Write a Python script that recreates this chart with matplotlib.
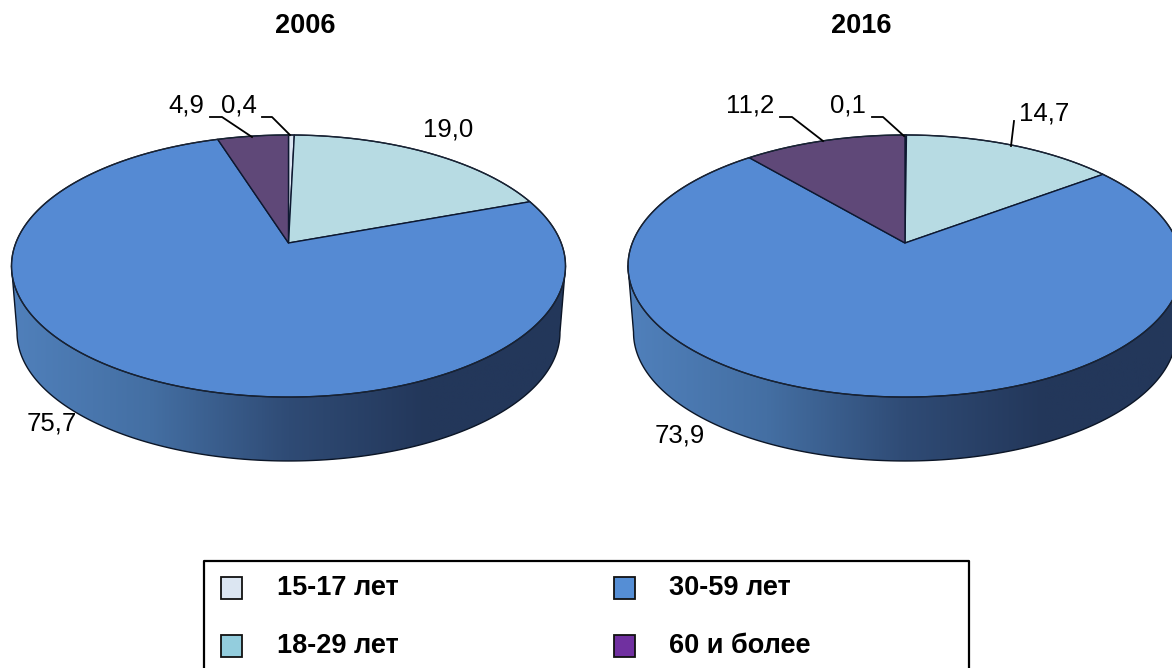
import numpy as np
import matplotlib
matplotlib.use("Agg")
import matplotlib.pyplot as plt
from matplotlib.colors import LinearSegmentedColormap
from matplotlib.patches import Polygon, Rectangle

plt.rcParams['font.family'] = ['Liberation Sans', 'DejaVu Sans']

# ---- data ----
years = ["2006", "2016"]
categories = ["15-17 лет", "18-29 лет", "30-59 лет", "60 и более"]
values_2006 = [0.4, 19.0, 75.7, 4.9]
values_2016 = [0.1, 14.7, 73.9, 11.2]
labels_2006 = ["0,4", "19,0", "75,7", "4,9"]
labels_2016 = ["0,1", "14,7", "73,9", "11,2"]
top_colors = ["#dce6f2", "#b7dbe3", "#558ad3", "#5f4878"]
legend_colors = ["#dce6f2", "#93cddd", "#558ed5", "#7030a0"]

# ---- layout in pixels ----
W, H = 1172, 668
CX = [288.5, 905]
CY = 243
A, B, K = 272.7, 127.0, 0.1756
DEPTH_SCALE, DEPTH_SHIFT = 0.98, 67

fig = plt.figure(figsize=(W / 100, H / 100), dpi=100)
ax = fig.add_axes([0, 0, 1, 1])
side_cmap = LinearSegmentedColormap.from_list(
    "side", ["#5080bb", "#446fa3", "#2f4b75", "#23375a", "#23375a"])


def disk(cx, cy, frac, scale=1.0):
    """Perspective view of the unit disk; frac runs clockwise from the top."""
    t = 2 * np.pi * np.asarray(frac, dtype=float)
    u, v = np.sin(t), np.cos(t)
    w = 1 + K * v
    return cx + scale * A * u / w, cy - scale * B * v / w


def draw_pie(cx, values):
    # side wall
    f = np.linspace(0, 1, 721)
    tx, ty = disk(cx, CY, f)
    bx, by = disk(cx, CY + DEPTH_SHIFT, f, DEPTH_SCALE)
    il, ir = np.argmin(bx), np.argmax(bx)
    tl, tr = np.argmin(tx), np.argmax(tx)
    seg = np.arange(ir, il + 1)
    px = np.r_[tx[tr], bx[seg], tx[tl]]
    py = np.r_[ty[tr], by[seg], ty[tl]]
    wall = Polygon(np.c_[px, py], closed=True, fc="none", ec="#0b1526", lw=1.0, zorder=3)
    ax.add_patch(wall)
    grad = np.linspace(0, 1, 256)[None, :]
    im = ax.imshow(grad, cmap=side_cmap, aspect="auto", zorder=2,
                   extent=[px.min(), px.max(), py.max(), py.min()])
    im.set_clip_path(wall)

    # top surface
    total = sum(values)
    start = 0.0
    for val, col in zip(values, top_colors):
        fr = np.linspace(start, start + val / total, max(int(val * 8), 4))
        x, y = disk(cx, CY, fr)
        ax.add_patch(Polygon(np.c_[np.r_[cx, x], np.r_[CY, y]], closed=True,
                             fc=col, ec="#0d1830", lw=1.0, zorder=4, joinstyle="round"))
        start += val / total
    ax.plot(tx, ty, color="#1a2433", lw=0.9, zorder=5)


draw_pie(CX[0], values_2006)
draw_pie(CX[1], values_2016)

# titles
for x, yr in zip([305, 861], years):
    ax.text(x, 26, yr, ha="center", va="center", fontsize=19.5, fontweight="bold", color="black")

# data labels: (x centre, y centre)
label_pos_2006 = [(238.5, 106), (448.5, 129), (51.5, 423), (186, 106)]
label_pos_2016 = [(848, 106), (1044.5, 114), (679.5, 436), (750, 106)]
for labs, pos in ((labels_2006, label_pos_2006), (labels_2016, label_pos_2016)):
    for lab, (x, y) in zip(labs, pos):
        ax.text(x, y, lab, ha="center", va="center", fontsize=18.5, color="black", zorder=8)

# leader lines
leaders = [
    [(210, 117), (222, 117), (252, 137)],
    [(262, 117), (272, 117), (290, 135)],
    [(780, 117), (792, 117), (823, 141)],
    [(872, 117), (883, 117), (904, 136)],
    [(1014, 121), (1011, 146)],
]
for pts in leaders:
    xs, ys = zip(*pts)
    ax.plot(xs, ys, color="black", lw=1.3, zorder=7)

# legend
ax.plot([204, 204, 969, 969], [H + 5, 561, 561, H + 5], color="black", lw=1.6, zorder=6)
swatch_xy = [(221, 577), (221, 635), (614, 577), (614, 635)]
text_xy = [(277, 588), (277, 646), (669, 588), (669, 646)]
for name, col, (sx, sy), (tx_, ty_) in zip(categories, legend_colors, swatch_xy, text_xy):
    ax.add_patch(Rectangle((sx, sy), 21, 22, fc=col, ec="#111111", lw=1.3, zorder=6))
    ax.text(tx_, ty_, name, ha="left", va="center", fontsize=19.5, fontweight="bold", color="black")

ax.set_xlim(0, W)
ax.set_ylim(H, 0)
ax.axis("off")
fig.savefig("out.png", dpi=100, facecolor="white")
